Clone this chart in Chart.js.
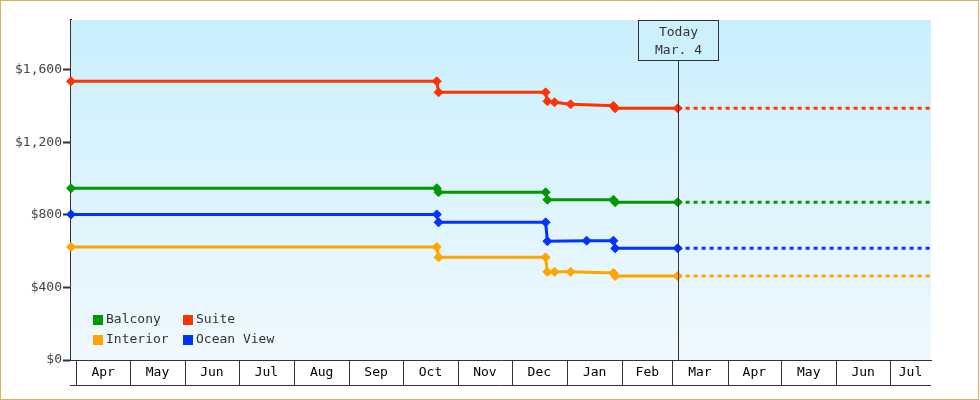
<!DOCTYPE html>
<html>
<head>
<meta charset="utf-8">
<title>Cabin fare history</title>
<script src="https://cdn.jsdelivr.net/npm/chart.js@4.4.0/dist/chart.umd.min.js"></script>
<style>
  html, body { margin: 0; padding: 0; background: #fff; }
  #wrap { width: 980px; height: 400px; }
</style>
</head>
<body>
<div id="wrap"><canvas id="fare-chart" width="980" height="400"></canvas></div>
<script>
// ---- data ----
const axisStart = '2024-03-29';
const axisEnd = '2025-07-24';
const todayDate = '2025-03-04';
const todayLabel = ['Today', 'Mar. 4'];

const monthStarts = ['2024-04-01', '2024-05-01', '2024-06-01', '2024-07-01', '2024-08-01', '2024-09-01',
    '2024-10-01', '2024-11-01', '2024-12-01', '2025-01-01', '2025-02-01', '2025-03-01',
    '2025-04-01', '2025-05-01', '2025-06-01', '2025-07-01'];
const monthLabels = ['Apr', 'May', 'Jun', 'Jul', 'Aug', 'Sep', 'Oct', 'Nov', 'Dec', 'Jan', 'Feb', 'Mar',
    'Apr', 'May', 'Jun', 'Jul'];

const yTicks = [0, 400, 800, 1200, 1600];

const balconyDates = ['2024-03-29', '2024-10-20', '2024-10-21', '2024-12-20', '2024-12-21', '2025-01-27', '2025-01-28', '2025-03-04'];
const balconyFares = [947, 947, 925, 925, 884, 884, 870, 870];

const suiteDates = ['2024-03-29', '2024-10-20', '2024-10-21', '2024-12-20', '2024-12-21', '2024-12-25', '2025-01-03', '2025-01-27', '2025-01-28', '2025-03-04'];
const suiteFares = [1537, 1537, 1476, 1476, 1427, 1421, 1410, 1402, 1388, 1388];

const interiorDates = ['2024-03-29', '2024-10-20', '2024-10-21', '2024-12-20', '2024-12-21', '2024-12-25', '2025-01-03', '2025-01-27', '2025-01-28', '2025-03-04'];
const interiorFares = [623, 623, 566, 566, 486, 486, 486, 480, 463, 463];

const oceanDates = ['2024-03-29', '2024-10-20', '2024-10-21', '2024-12-20', '2024-12-21', '2025-01-12', '2025-01-27', '2025-01-28', '2025-03-04'];
const oceanFares = [803, 803, 759, 759, 655, 658, 658, 616, 616];

// ---- helpers ----
const FONT = { family: '"DejaVu Sans Mono", "Liberation Mono", monospace', size: 13 };

function dayNum(iso) {
    const p = iso.split('-').map(Number);
    return (Date.UTC(p[0], p[1] - 1, p[2]) - Date.UTC(2024, 3, 1)) / 86400000;
}

function toPoints(dates, fares) {
    return dates.map(function(d, i) { return { x: dayNum(d), y: fares[i] }; });
}

// flat dotted projection from today to the end of the axis
function projection(fares) {
    const last = fares[fares.length - 1];
    return [{ x: dayNum(todayDate), y: last }, { x: dayNum(axisEnd), y: last }];
}

const xMin = dayNum(axisStart);
const xMax = dayNum(axisEnd);
const monthDays = monthStarts.map(dayNum);
const monthMids = monthDays.map(function(d, i) {
    const next = i + 1 < monthDays.length ? monthDays[i + 1] : xMax;
    return (d + Math.min(next, xMax)) / 2;
});

const series = [
    { label: 'Balcony', color: '#009900', dates: balconyDates, fares: balconyFares },
    { label: 'Suite', color: '#ff3300', dates: suiteDates, fares: suiteFares },
    { label: 'Interior', color: '#ffa500', dates: interiorDates, fares: interiorFares },
    { label: 'Ocean View', color: '#0033ff', dates: oceanDates, fares: oceanFares }
];

const datasets = [];
series.forEach(function(s) {
    datasets.push({
        label: s.label + ' (projected)',
        data: projection(s.fares),
        borderColor: s.color,
        borderWidth: 3,
        borderDash: [4, 4],
        pointRadius: 0,
        tension: 0
    });
});
series.forEach(function(s) {
    datasets.push({
        label: s.label,
        data: toPoints(s.dates, s.fares),
        borderColor: s.color,
        backgroundColor: s.color,
        borderWidth: 3,
        pointStyle: 'rectRot',
        pointRadius: 4.5,
        pointBorderWidth: 1,
        clip: false,
        tension: 0
    });
});

// ---- plugin: background, month cells, today marker, legend, frame ----
const decorPlugin = {
    id: 'fareDecor',
    beforeDatasetsDraw: function(chart) {
        const ctx = chart.ctx;
        const a = chart.chartArea;
        ctx.save();
        const g = ctx.createLinearGradient(0, a.top, 0, a.bottom);
        g.addColorStop(0, '#caeffd');
        g.addColorStop(1, '#f0f9fe');
        ctx.fillStyle = g;
        ctx.fillRect(a.left, a.top, a.right - a.left, a.bottom - a.top);
        ctx.restore();
    },
    afterDraw: function(chart) {
        const ctx = chart.ctx;
        const a = chart.chartArea;
        const xs = chart.scales.x;
        ctx.save();

        // month cells under the axis
        ctx.strokeStyle = '#333';
        ctx.lineWidth = 1;
        const cellBottom = a.bottom + 25;
        monthDays.forEach(function(d) {
            const px = Math.round(xs.getPixelForValue(d)) + 0.5;
            ctx.beginPath();
            ctx.moveTo(px, a.bottom);
            ctx.lineTo(px, cellBottom);
            ctx.stroke();
        });
        ctx.beginPath();
        ctx.moveTo(a.left - 1, cellBottom + 0.5);
        ctx.lineTo(a.right, cellBottom + 0.5);
        ctx.stroke();

        // today marker
        const tx = Math.round(xs.getPixelForValue(dayNum(todayDate))) + 0.5;
        const boxW = 80, boxH = 40;
        const boxTop = a.top + 0.5;
        ctx.beginPath();
        ctx.moveTo(tx, boxTop + boxH);
        ctx.lineTo(tx, a.bottom);
        ctx.stroke();
        ctx.fillStyle = '#cdf0fd';
        ctx.fillRect(tx - boxW / 2, boxTop, boxW, boxH);
        ctx.strokeRect(tx - boxW / 2, boxTop, boxW, boxH);
        ctx.fillStyle = '#333';
        ctx.font = FONT.size + 'px ' + FONT.family;
        ctx.textAlign = 'center';
        ctx.textBaseline = 'middle';
        ctx.fillText(todayLabel[0], tx, boxTop + 12);
        ctx.fillText(todayLabel[1], tx, boxTop + 30);

        // legend (2 x 2, inside the plot)
        ctx.textAlign = 'left';
        series.forEach(function(s, i) {
            const col = i % 2, row = Math.floor(i / 2);
            const bx = a.left + 22 + col * 90;
            const by = a.bottom - 45 + row * 20;
            ctx.fillStyle = s.color;
            ctx.fillRect(bx, by, 10, 10);
            ctx.fillStyle = '#333';
            ctx.fillText(s.label, bx + 13, by + 5);
        });

        // outer frame
        ctx.strokeStyle = '#e8a862';
        ctx.lineWidth = 1;
        ctx.strokeRect(0.5, 0.5, chart.width - 2, chart.height - 1);
        ctx.restore();
    }
};

new Chart(document.getElementById('fare-chart'), {
    type: 'line',
    data: { datasets: datasets },
    plugins: [decorPlugin],
    options: {
        responsive: false,
        animation: false,
        devicePixelRatio: 1,
        layout: { padding: { top: 20, right: 49, bottom: 15, left: 0 } },
        plugins: {
            legend: { display: false },
            tooltip: { enabled: false }
        },
        scales: {
            x: {
                type: 'linear',
                min: xMin,
                max: xMax,
                afterBuildTicks: function(scale) {
                    scale.ticks = monthMids.map(function(v) { return { value: v }; });
                },
                ticks: {
                    autoSkip: false,
                    maxRotation: 0,
                    padding: 5,
                    color: '#000',
                    font: FONT,
                    callback: function(value, index) { return monthLabels[index]; }
                },
                grid: { display: false, drawTicks: false, tickLength: 0 },
                border: { display: true, color: '#333', width: 1 },
                afterFit: function(scale) { scale.height = 25; }
            },
            y: {
                min: 0,
                max: 1875,
                afterBuildTicks: function(scale) {
                    scale.ticks = yTicks.map(function(v) { return { value: v }; });
                },
                ticks: {
                    padding: 1,
                    color: '#444',
                    font: FONT,
                    callback: function(value) { return '$' + value.toLocaleString('en-US'); }
                },
                grid: { drawOnChartArea: false, tickLength: 8, tickWidth: 2, tickColor: '#333' },
                border: { color: '#333', width: 2 },
                afterFit: function(scale) { scale.width = 71; }
            }
        }
    }
});
</script>
</body>
</html>
